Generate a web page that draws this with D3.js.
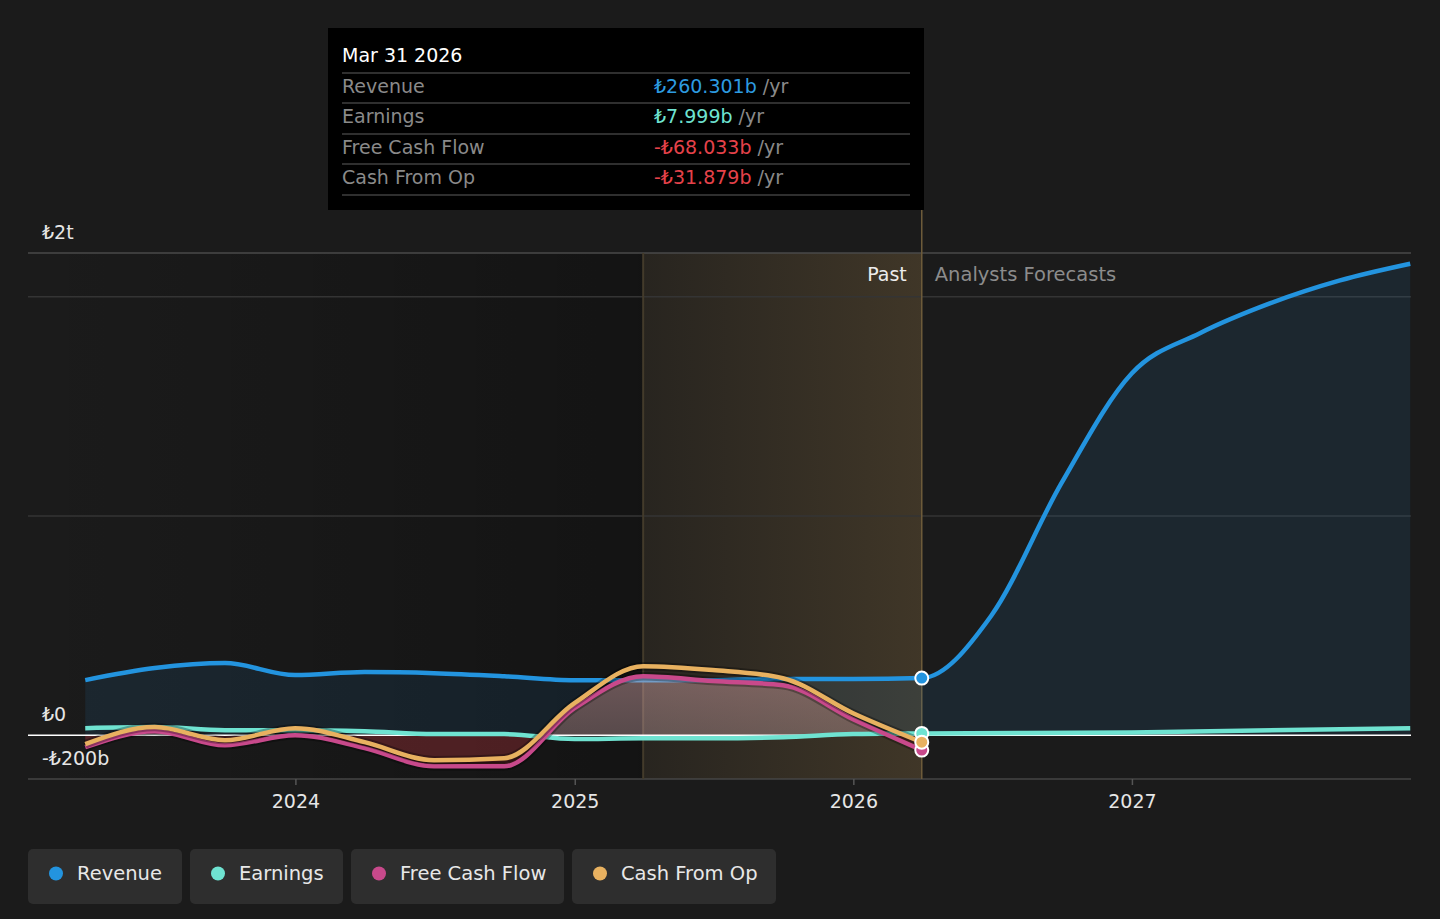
<!DOCTYPE html>
<html>
<head>
<meta charset="utf-8" />
<title>Revenue, earnings and cash flow</title>
<style>
    body { margin: 0; background: #1b1b1b; }
    svg { display: block; font-family: "DejaVu Sans", sans-serif; }
</style>
</head>
<body>
<svg width="1440" height="919"></svg>

<script src="https://cdn.jsdelivr.net/npm/d3@7"></script>
<script>

// ---- data (billions of lira) ----
var pastDates = ['2023-03-31', '2023-06-30', '2023-09-30', '2023-12-31', '2024-03-31', '2024-06-30',
    '2024-09-30', '2024-12-31', '2025-03-31', '2025-06-30', '2025-09-30', '2025-12-31', '2026-03-31'];
var revenuePast = [251, 306, 329, 274, 288, 283, 269, 251, 251, 251, 256, 256, 260.301];
var earningsPast = [32, 37, 23, 23, 18, 5, 5, -18, -14, -14, -9, 5, 7.999];
var fcfPast = [-55, 18, -46, 0, -59, -142, -142, 123, 269, 247, 228, 73, -68.033];
var cfoPast = [-41, 37, -23, 32, -32, -114, -105, 146, 315, 297, 260, 100, -31.879];

var revForecastDates = ['2026-03-31', '2026-06-30', '2026-09-30', '2026-12-31', '2027-03-31', '2027-06-30',
    '2027-09-30', '2027-12-31'];
var revenueForecast = [260.301, 545, 1150, 1650, 1835, 1970, 2075, 2151];
var earnForecastDates = ['2026-03-31', '2026-12-31', '2027-12-31'];
var earningsForecast = [7.999, 12, 32];

var seriesNames = ['Revenue', 'Earnings', 'Free Cash Flow', 'Cash From Op'];
var seriesColors = ['#2394df', '#6fe3d1', '#c8498b', '#e8b160'];

var tooltipDate = 'Mar 31 2026';
var tooltipValues = ['₺260.301b', '₺7.999b', '-₺68.033b', '-₺31.879b'];
var tooltipColors = ['#2d9be0', '#6fe3d1', '#e5424a', '#e5424a'];

var xTickYears = [2024, 2025, 2026, 2027];
var yGridValues = [1000, 2000];
var yLabelValues = [2200, 0, -200];
var yLabels = ['₺2t', '₺0', '-₺200b'];

var bandStart = '2025-03-31';
var pastEnd = '2026-03-31';

// ---- scales ----
var parse = d3.timeParse('%Y-%m-%d');
var plotLeft = 28, plotRight = 1411, plotTop = 253, plotBottom = 779;

var x = d3.scaleTime()
    .domain([new Date(2023, 0, 15), new Date(2028, 0, 1)])
    .range([plotLeft, plotRight]);
var y = d3.scaleLinear()
    .domain([-200, 2200])
    .range([plotBottom, plotTop]);

function pts(dates, vals) {
    return dates.map(function (d, i) { return { date: parse(d), value: vals[i] }; });
}
var revenue = pts(pastDates, revenuePast).concat(pts(revForecastDates, revenueForecast).slice(1));
var earnings = pts(pastDates, earningsPast).concat(pts(earnForecastDates, earningsForecast).slice(1));
var fcf = pts(pastDates, fcfPast);
var cfo = pts(pastDates, cfoPast);

var svg = d3.select('svg');
var defs = svg.append('defs');

// gradients
var g1 = defs.append('linearGradient').attr('id', 'pastShade').attr('x1', 0).attr('x2', 1).attr('y1', 0).attr('y2', 0);
g1.append('stop').attr('offset', 0).attr('stop-color', '#000').attr('stop-opacity', 0);
g1.append('stop').attr('offset', 1).attr('stop-color', '#000').attr('stop-opacity', 0.28);

var g2 = defs.append('linearGradient').attr('id', 'band').attr('x1', 0).attr('x2', 1).attr('y1', 0).attr('y2', 0);
g2.append('stop').attr('offset', 0).attr('stop-color', '#d2a45a').attr('stop-opacity', 0.07);
g2.append('stop').attr('offset', 1).attr('stop-color', '#d2a45a').attr('stop-opacity', 0.2);

var g3 = defs.append('linearGradient').attr('id', 'fcfPos').attr('x1', 0).attr('x2', 0).attr('y1', 0).attr('y2', 1);
g3.append('stop').attr('offset', 0).attr('stop-color', '#f0a8a0').attr('stop-opacity', 0.4);
g3.append('stop').attr('offset', 1).attr('stop-color', '#e0a090').attr('stop-opacity', 0.28);

defs.append('clipPath').attr('id', 'above')
    .append('rect').attr('x', plotLeft).attr('y', plotTop)
    .attr('width', plotRight - plotLeft).attr('height', y(0) - plotTop);
defs.append('clipPath').attr('id', 'below')
    .append('rect').attr('x', plotLeft).attr('y', y(0))
    .attr('width', plotRight - plotLeft).attr('height', plotBottom - y(0));

// ---- background shading ----
svg.append('rect')
    .attr('x', plotLeft).attr('y', plotTop)
    .attr('width', x(parse(bandStart)) - plotLeft).attr('height', plotBottom - plotTop)
    .attr('fill', 'url(#pastShade)');

svg.append('rect')
    .attr('x', x(parse(bandStart))).attr('y', plotTop)
    .attr('width', x(parse(pastEnd)) - x(parse(bandStart))).attr('height', plotBottom - plotTop)
    .attr('fill', 'url(#band)');

// gridlines
svg.selectAll('.grid')
    .data(yGridValues)
    .enter()
    .append('line')
    .attr('x1', plotLeft).attr('x2', plotRight)
    .attr('y1', function (d) { return y(d); })
    .attr('y2', function (d) { return y(d); })
    .attr('stroke', '#343434')
    .attr('stroke-width', 1.5);

svg.append('line')
    .attr('x1', plotLeft).attr('x2', plotRight).attr('y1', y(2200)).attr('y2', y(2200))
    .attr('stroke', '#4a4a4a').attr('stroke-width', 1.5);
svg.append('line')
    .attr('x1', plotLeft).attr('x2', plotRight).attr('y1', y(-200)).attr('y2', y(-200))
    .attr('stroke', '#464646').attr('stroke-width', 1.5);

// year ticks
svg.selectAll('.xtick')
    .data(xTickYears)
    .enter()
    .append('line')
    .attr('x1', function (d) { return x(new Date(d, 0, 1)); })
    .attr('x2', function (d) { return x(new Date(d, 0, 1)); })
    .attr('y1', plotBottom).attr('y2', plotBottom + 6)
    .attr('stroke', '#555').attr('stroke-width', 1.5);

svg.selectAll('.xlabel')
    .data(xTickYears)
    .enter()
    .append('text')
    .attr('x', function (d) { return x(new Date(d, 0, 1)); })
    .attr('y', 808)
    .attr('text-anchor', 'middle')
    .attr('fill', '#e6e6e6')
    .attr('font-size', 19)
    .text(function (d) { return d; });

// band lines
svg.append('line')
    .attr('x1', x(parse(bandStart))).attr('x2', x(parse(bandStart)))
    .attr('y1', plotTop).attr('y2', plotBottom)
    .attr('stroke', '#433b2b').attr('stroke-width', 2);
svg.append('line')
    .attr('x1', x(parse(pastEnd))).attr('x2', x(parse(pastEnd)))
    .attr('y1', 210).attr('y2', plotBottom)
    .attr('stroke', '#6e5c3b').attr('stroke-width', 1.5);

// ---- series ----
var curve = d3.curveMonotoneX;
var line = d3.line().x(function (d) { return x(d.date); }).y(function (d) { return y(d.value); }).curve(curve);
var area = d3.area().x(function (d) { return x(d.date); }).y0(y(0)).y1(function (d) { return y(d.value); }).curve(curve);

svg.append('path').datum(revenue)
    .attr('d', area).attr('fill', seriesColors[0]).attr('fill-opacity', 0.1);

svg.append('path').datum(revenue)
    .attr('d', line).attr('fill', 'none')
    .attr('stroke', seriesColors[0]).attr('stroke-width', 4.5);

// free cash flow area, split at zero
svg.append('path').datum(fcf)
    .attr('d', area).attr('clip-path', 'url(#below)')
    .attr('fill', '#d23943').attr('fill-opacity', 0.3);
svg.append('path').datum(fcf)
    .attr('d', area).attr('clip-path', 'url(#above)')
    .attr('fill', 'url(#fcfPos)');

// zero line
svg.append('line')
    .attr('x1', plotLeft).attr('x2', plotRight).attr('y1', y(0)).attr('y2', y(0))
    .attr('stroke', '#ffffff').attr('stroke-width', 1.5);

svg.append('path').datum(earnings)
    .attr('d', line).attr('fill', 'none')
    .attr('stroke', seriesColors[1]).attr('stroke-width', 4.5);

[fcf, cfo].forEach(function (s, i) {
    svg.append('path').datum(s)
        .attr('d', line).attr('fill', 'none')
        .attr('stroke', '#000').attr('stroke-opacity', 0.3).attr('stroke-width', 8.5);
    svg.append('path').datum(s)
        .attr('d', line).attr('fill', 'none')
        .attr('stroke', seriesColors[i + 2]).attr('stroke-width', 4.5);
});

// end markers
var ends = [revenue, earnings, fcf, cfo].map(function (s, i) {
    var p = s.filter(function (d) { return +d.date === +parse(pastEnd); })[0];
    return { date: p.date, value: p.value, color: seriesColors[i] };
});
var order = [0, 2, 1, 3];
svg.selectAll('.marker')
    .data(order.map(function (i) { return ends[i]; }))
    .enter()
    .append('circle')
    .attr('cx', function (d) { return x(d.date); })
    .attr('cy', function (d) { return y(d.value); })
    .attr('r', 6.5)
    .attr('fill', function (d) { return d.color; })
    .attr('stroke', '#fff')
    .attr('stroke-width', 2);

// y labels
svg.selectAll('.ylabel')
    .data(yLabelValues)
    .enter()
    .append('text')
    .attr('x', 42)
    .attr('y', function (d) { return y(d) - 14; })
    .attr('fill', '#e6e6e6')
    .attr('font-size', 19)
    .text(function (d, i) { return yLabels[i]; });

// past / forecast labels
svg.append('text')
    .attr('x', x(parse(pastEnd)) - 15).attr('y', 281)
    .attr('text-anchor', 'end').attr('fill', '#ececec').attr('font-size', 19)
    .text('Past');
svg.append('text')
    .attr('x', x(parse(pastEnd)) + 13).attr('y', 281)
    .attr('fill', '#8c8c8c').attr('font-size', 19.5)
    .text('Analysts Forecasts');

// ---- tooltip ----
var tip = svg.append('g').attr('transform', 'translate(328,28)');
tip.append('rect').attr('width', 596).attr('height', 182).attr('fill', '#000');
tip.append('text').attr('x', 14).attr('y', 34)
    .attr('fill', '#fff').attr('font-size', 19).text(tooltipDate);

var rowY = [45, 75, 106, 136, 167];
tip.selectAll('.sep')
    .data(rowY)
    .enter()
    .append('line')
    .attr('x1', 14).attr('x2', 582)
    .attr('y1', function (d) { return d; }).attr('y2', function (d) { return d; })
    .attr('stroke', '#3f3f3f').attr('stroke-width', 1.5);

var rows = tip.selectAll('.row')
    .data(seriesNames)
    .enter()
    .append('g');
rows.append('text')
    .attr('x', 14)
    .attr('y', function (d, i) { return rowY[i] + 20; })
    .attr('fill', '#8a8a8a').attr('font-size', 19)
    .text(function (d) { return d; });
var vals = rows.append('text')
    .attr('x', 326)
    .attr('y', function (d, i) { return rowY[i] + 20; })
    .attr('font-size', 19);
vals.append('tspan')
    .attr('fill', function (d, i) { return tooltipColors[i]; })
    .text(function (d, i) { return tooltipValues[i]; });
vals.append('tspan')
    .attr('fill', '#8a8a8a')
    .text(' /yr');

// ---- legend ----
var legendX = [28, 190, 351, 572];
var legendW = [154, 153, 213, 204];
var leg = svg.selectAll('.legend')
    .data(seriesNames)
    .enter()
    .append('g')
    .attr('transform', function (d, i) { return 'translate(' + legendX[i] + ',849)'; });
leg.append('rect')
    .attr('width', function (d, i) { return legendW[i]; })
    .attr('height', 55).attr('rx', 5)
    .attr('fill', '#2e2e2e');
leg.append('circle')
    .attr('cx', 28).attr('cy', 24.5).attr('r', 7)
    .attr('fill', function (d, i) { return seriesColors[i]; });
leg.append('text')
    .attr('x', 49).attr('y', 31)
    .attr('fill', '#e8e8e8').attr('font-size', 19.5)
    .text(function (d) { return d; });

</script>
</body>
</html>
